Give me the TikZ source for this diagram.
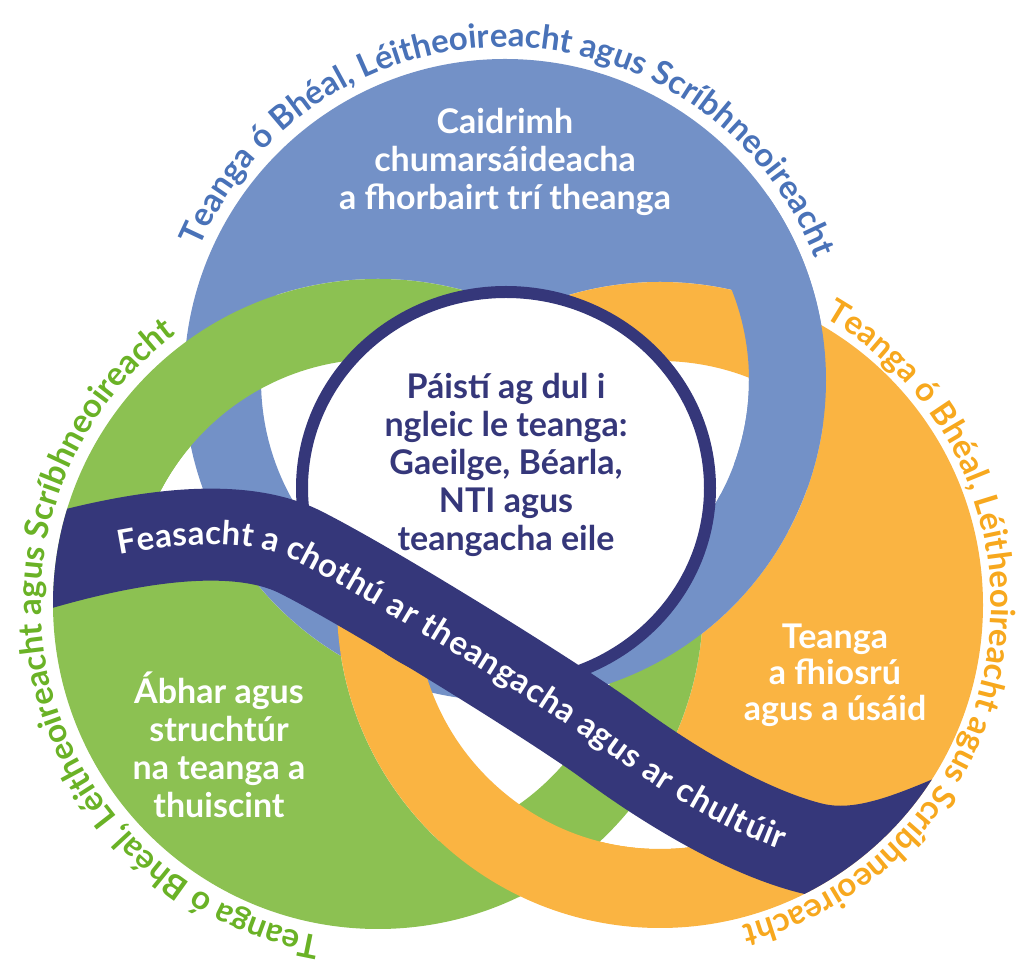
\documentclass[tikz,border=0pt]{standalone}
\usepackage{fontspec}
\setmainfont{Lato}
\usetikzlibrary{decorations.text}
\definecolor{ringblue}{RGB}{115,145,199}
\definecolor{ringgreen}{RGB}{140,193,82}
\definecolor{ringorange}{RGB}{250,180,66}
\definecolor{navy}{RGB}{53,55,122}
\definecolor{bluetext}{RGB}{73,114,184}
\definecolor{greentext}{RGB}{106,178,38}
\definecolor{orangetext}{RGB}{247,168,30}
\tikzset{
  bandline/.style={insert path={(0,388) .. controls (110,424) and (230,447) .. (300,412) .. controls (370,377) and (560,259) .. (610,222) .. controls (660,185) and (740,134) .. (810,116) .. controls (865,102) and (920,129) .. (1000,164)}},
  filltext/.style={align=center,inner sep=0pt,font=\fontsize{34}{38}\selectfont\bfseries},
  arctext/.style={decorate,decoration={text along path,text align=center,text={|\fontsize{33}{33}\selectfont\bfseries\color{#1}|Teanga ó Bhéal, Léitheoireacht agus Scríbhneoireacht}}}
}
\begin{document}
\begin{tikzpicture}[x=1pt,y=1pt]
\useasboundingbox (0,0) rectangle (1018,964);
\coordinate (bluec) at (505,584);
\coordinate (greenc) at (378,360);
\coordinate (orangec) at (660,359);
\coordinate (midc) at (506,476);

%Shape: Circle
\fill[ringblue] (bluec) circle (248);
\fill[ringgreen] (greenc) circle (249);
\fill[ringorange] (orangec) circle (248);
% where the discs overlap
\begin{scope}
\clip (bluec) circle (321);
\fill[white] (greenc) circle (325) (orangec) circle (323);
\end{scope}
\begin{scope}
\clip (greenc) circle (325);
\fill[white] (orangec) circle (323);
\end{scope}
\begin{scope}
\clip (greenc) circle (245);
\fill[white,bandline] -- (1000,964) -- (0,964) -- cycle;
\end{scope}
\begin{scope}
\clip (orangec) circle (244);
\fill[white,bandline] -- (1000,0) -- (0,0) -- cycle;
\end{scope}

%Shape: Ring
\draw[ringblue,line width=77] (bluec) circle (282.5);
\draw[ringgreen,line width=80] (greenc) circle (285);
\draw[ringorange,line width=79] (orangec) circle (283.5);
\draw[ringblue,line width=77] ([shift={(-20:282.5)}]bluec) arc[start angle=-20,end angle=35,radius=282.5];
\draw[ringblue,line width=77] ([shift={(-85:282.5)}]bluec) arc[start angle=-85,end angle=-28,radius=282.5];

% Text Node
\node[filltext,text=white] (bluetxt) at (505,802) {Caidrimh\\chumarsáideacha\\a fhorbairt trí theanga};
% Text Node
\node[filltext,text=white] (greentxt) at (219,219) {Ábhar agus\\struchtúr\\na teanga a\\thuiscint};
% Text Node
\node[filltext,text=white,font=\fontsize{34}{36}\selectfont\bfseries] (orangetxt) at (835,289) {Teanga\\a fhiosrú\\agus a úsáid};

%Shape: Ellipse
\draw[navy,line width=12,fill=white] (midc) ellipse [x radius=204,y radius=196];
% Text Node
\node[filltext,text=navy] (midtxt) at (506,499) {Páistí ag dul i\\ngleic le teanga:\\Gaeilge, Béarla,\\NTI agus\\teangacha eile};

%Curve Lines
\begin{scope}
\clip (bluec) circle (321) (greenc) circle (325) (orangec) circle (323);
\draw[navy,line width=92,bandline];
\end{scope}
\path[decorate,decoration={text along path,raise=-10pt,
  text align={left indent=122pt,right indent=226pt,fit to path},
  text={|\fontsize{33}{33}\selectfont\bfseries\color{white}|Feasacht a chothú ar theangacha agus ar chultúir}},bandline];

% Text on arcs
\path[arctext=bluetext] ([shift={(179:333)}]bluec) arc[start angle=179,end angle=-1,radius=333];
\path[arctext=greentext] ([shift={(283.5:337)}]greenc) arc[start angle=283.5,end angle=103.5,radius=337];
\path[arctext=orangetext] ([shift={(82.3:331)}]orangec) arc[start angle=82.3,end angle=-97.7,radius=331];
\end{tikzpicture}
\end{document}
